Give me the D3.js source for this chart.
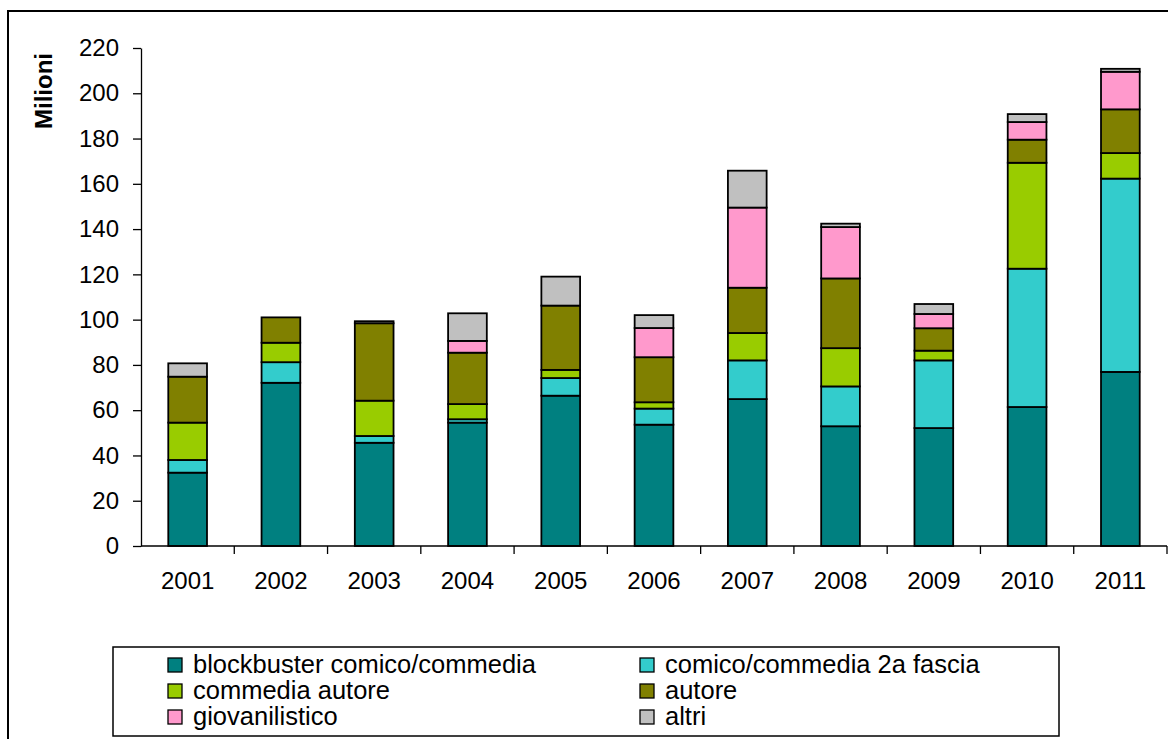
<!DOCTYPE html>
<html>
<head>
<meta charset="utf-8">
<script src="https://cdn.jsdelivr.net/npm/d3@7"></script>
<style>
  html, body { margin: 0; padding: 0; background: #fff; }
  svg { display: block; font-family: Arial, "Liberation Sans", sans-serif; }
</style>
</head>
<body>
<svg id="chart" width="1168" height="739"></svg>
<script>
// Box office by film type, millions per year
const years = ["2001","2002","2003","2004","2005","2006","2007","2008","2009","2010","2011"];
const seriesNames = ["blockbuster comico/commedia","comico/commedia 2a fascia","commedia autore","autore","giovanilistico","altri"];
const blockbuster = [32.4, 72.1, 45.6, 54.5, 66.4, 53.6, 64.9, 52.9, 52.1, 61.4, 76.9];
const secondTier  = [ 5.6,  9.1,  3.0,  1.5,  7.8,  7.1, 17.1, 17.6, 29.9, 61.1, 85.4];
const commediaAut = [16.5,  8.6, 15.6,  6.7,  3.6,  2.8, 12.1, 16.9,  4.3, 46.8, 11.3];
const autore      = [20.3, 11.2, 34.2, 22.7, 28.4, 19.9, 20.0, 30.8,  9.9, 10.2, 19.3];
const giovanile   = [ 0.0,  0.0,  0.0,  5.2,  0.0, 12.9, 35.4, 22.7,  6.3,  7.8, 16.6];
const altri       = [ 5.9,  0.0,  0.9, 12.2, 12.8,  5.7, 16.3,  1.5,  4.4,  3.5,  1.3];
const yTicks = [0, 20, 40, 60, 80, 100, 120, 140, 160, 180, 200, 220];
const colors = ["#008080", "#33CCCC", "#99CC00", "#808000", "#FF99CC", "#C0C0C0"];

const seriesValues = [blockbuster, secondTier, commediaAut, autore, giovanile, altri];
const rows = years.map((y, i) => {
  const r = { year: y };
  seriesNames.forEach((n, k) => { r[n] = seriesValues[k][i]; });
  return r;
});

const svg = d3.select("#chart");

// outer chart frame (runs off the right and bottom edges)
svg.append("rect")
  .attr("x", 8).attr("y", 11).attr("width", 1180).attr("height", 760)
  .attr("fill", "none").attr("stroke", "#000").attr("stroke-width", 2);

const plot = { left: 141, right: 1167, top: 48, bottom: 546 };

const x = d3.scaleBand().domain(years).range([plot.left, plot.right]).paddingInner(0.585).paddingOuter(0.2925);
const y = d3.scaleLinear().domain([0, 220]).range([plot.bottom, plot.top]);

const stack = d3.stack().keys(seriesNames);
const layers = stack(rows);

const g = svg.append("g");
g.selectAll("g.layer")
  .data(layers)
  .join("g")
  .attr("class", "layer")
  .attr("fill", (d, i) => colors[i])
  .selectAll("rect")
  .data(d => d.filter(p => p[1] - p[0] > 0))
  .join("rect")
  .attr("x", d => x(d.data.year))
  .attr("width", x.bandwidth())
  .attr("y", d => y(d[1]))
  .attr("height", d => y(d[0]) - y(d[1]))
  .attr("stroke", "#000")
  .attr("stroke-width", 1.8);

// y axis
const yAxis = d3.axisLeft(y).tickValues(yTicks).tickSize(8).tickSizeOuter(0).tickPadding(14);
const yg = svg.append("g").attr("transform", `translate(${plot.left},0)`).call(yAxis);
yg.selectAll("text").attr("font-size", 24).attr("fill", "#000").attr("font-family", "Arial, 'Liberation Sans', sans-serif");
yg.selectAll("line, path").attr("stroke", "#000").attr("stroke-width", 1.3);

// x axis: labels centred on bands, tick marks on band boundaries
const xAxis = d3.axisBottom(x).tickSize(0).tickPadding(26);
const xg = svg.append("g").attr("transform", `translate(0,${plot.bottom})`).call(xAxis);
xg.select("path.domain").remove();
xg.selectAll("text").attr("font-size", 24).attr("fill", "#000").attr("font-family", "Arial, 'Liberation Sans', sans-serif");
svg.append("line")
  .attr("x1", plot.left).attr("x2", plot.right)
  .attr("y1", plot.bottom).attr("y2", plot.bottom)
  .attr("stroke", "#000").attr("stroke-width", 1.3);
const boundaries = years.map(yr => x(yr) - x.step() * x.paddingInner() / 2).slice(1).concat([plot.right]);
svg.append("g").selectAll("line")
  .data(boundaries)
  .join("line")
  .attr("x1", d => d).attr("x2", d => d)
  .attr("y1", plot.bottom).attr("y2", plot.bottom + 8)
  .attr("stroke", "#000").attr("stroke-width", 1.3);

// y axis title
svg.append("text")
  .attr("transform", `translate(52,91) rotate(-90)`)
  .attr("text-anchor", "middle")
  .attr("font-size", 24).attr("font-weight", "bold")
  .text("Milioni");

// legend
const lg = svg.append("g");
lg.append("rect")
  .attr("x", 113).attr("y", 647).attr("width", 946).attr("height", 89)
  .attr("fill", "#fff").attr("stroke", "#000").attr("stroke-width", 1.5);
const items = lg.selectAll("g.item")
  .data(seriesNames)
  .join("g")
  .attr("class", "item")
  .attr("transform", (d, i) => `translate(${i % 2 === 0 ? 168 : 640},${658 + Math.floor(i / 2) * 26})`);
items.append("rect")
  .attr("width", 14).attr("height", 14)
  .attr("fill", (d, i) => colors[i])
  .attr("stroke", "#000").attr("stroke-width", 1.3);
items.append("text")
  .attr("x", 25).attr("y", 15)
  .attr("font-size", 25.5)
  .text(d => d);
</script>
</body>
</html>
